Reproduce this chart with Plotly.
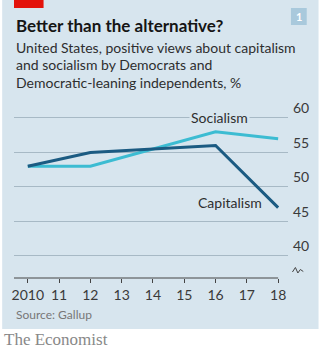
import plotly.graph_objects as go

# Survey years and shares (%) of Democrats and Democratic-leaning independents
years = [2010, 2012, 2016, 2018]
capitalism = [53, 55, 56, 47]
socialism = [53, 53, 58, 57]

tick_years = [2010, 2011, 2012, 2013, 2014, 2015, 2016, 2017, 2018]
tick_text = ["2010", "11", "12", "13", "14", "15", "16", "17", "18"]
y_ticks = [40, 45, 50, 55, 60]

subtitle_lines = [
    "United States, positive views about capitalism",
    "and socialism by Democrats and",
    "Democratic-leaning independents, %",
]

W, H = 321, 350
ML, MR, MT, MB = 12, 31, 100, 72
PW, PH = W - ML - MR, H - MT - MB

BG = "#d7e5ee"
CAP_COLOR = "#1b5b82"
SOC_COLOR = "#3cbcd2"
TEXT = "#2e2e2e"
FONT = "Lato"


def px_x(x):
    return (x - ML) / PW


def px_y(y):
    return (H - MB - y) / PH


fig = go.Figure()
fig.add_trace(go.Scatter(x=years, y=socialism, mode="lines", name="Socialism",
                         line=dict(color=SOC_COLOR, width=3)))
fig.add_trace(go.Scatter(x=years, y=capitalism, mode="lines", name="Capitalism",
                         line=dict(color=CAP_COLOR, width=3)))

shapes = [
    # panel background
    dict(type="rect", xref="paper", yref="paper", x0=px_x(0), x1=px_x(W),
         y0=px_y(329), y1=px_y(0), fillcolor=BG, line=dict(width=0), layer="below"),
    # red tag
    dict(type="rect", xref="paper", yref="paper", x0=px_x(12), x1=px_x(42),
         y0=px_y(8), y1=px_y(0), fillcolor="#e3120b", line=dict(width=0)),
    # chart number box
    dict(type="rect", xref="paper", yref="paper", x0=px_x(293), x1=px_x(309),
         y0=px_y(25), y1=px_y(8), fillcolor="#a9c9dc", line=dict(width=0)),
    # x axis baseline
    dict(type="line", xref="x", yref="paper", x0=tick_years[0] - 14 / 31.75,
         x1=tick_years[-1], y0=0, y1=0, line=dict(color="#444", width=1)),
    # axis break mark
    dict(type="path", xref="paper", yref="paper",
         path="M {:.4f},{:.4f} L {:.4f},{:.4f} L {:.4f},{:.4f} L {:.4f},{:.4f} L {:.4f},{:.4f}".format(
             px_x(294.5), px_y(272), px_x(297.5), px_y(267.5), px_x(300), px_y(273),
             px_x(302.5), px_y(269.5), px_x(305.5), px_y(271.5)),
         line=dict(color="#444", width=1)),
]

annotations = [
    dict(text="<b>Better than the alternative?</b>", x=px_x(12), y=px_y(25),
         xref="paper", yref="paper", xanchor="left", yanchor="middle", showarrow=False,
         font=dict(family=FONT, size=17, color="#151515")),
    dict(text="<b>1</b>", x=px_x(301), y=px_y(16.5), xref="paper", yref="paper",
         xanchor="center", yanchor="middle", showarrow=False,
         font=dict(family=FONT, size=11, color="white")),
    dict(text="Socialism", x=2016.14, y=60, xref="x", yref="y", showarrow=False,
         xanchor="center", yanchor="middle", bgcolor=BG, borderpad=1,
         font=dict(family=FONT, size=14, color=TEXT)),
    dict(text="Capitalism", x=2016.45, y=47.7, xref="x", yref="y", showarrow=False,
         xanchor="center", yanchor="middle",
         font=dict(family=FONT, size=14, color=TEXT)),
    dict(text="Source: Gallup", x=px_x(12), y=px_y(314), xref="paper", yref="paper",
         xanchor="left", yanchor="middle", showarrow=False,
         font=dict(family=FONT, size=12, color="#777")),
    dict(text="The Economist", x=px_x(0), y=px_y(339), xref="paper", yref="paper",
         xanchor="left", yanchor="middle", showarrow=False,
         font=dict(family="Liberation Serif", size=17, color="#888")),
]
for i, line in enumerate(subtitle_lines):
    annotations.append(dict(text=line, x=px_x(12), y=px_y(47 + 17.5 * i),
                            xref="paper", yref="paper", xanchor="left",
                            yanchor="middle", showarrow=False,
                            font=dict(family=FONT, size=14, color=TEXT)))

fig.update_layout(
    width=W, height=H,
    margin=dict(l=ML, r=MR, t=MT, b=MB, pad=0),
    paper_bgcolor="white", plot_bgcolor="rgba(0,0,0,0)",
    showlegend=False,
    shapes=shapes, annotations=annotations,
    xaxis=dict(range=[tick_years[0] - 14 / 31.75, tick_years[-1] + 10 / 31.75],
               tickvals=tick_years, ticktext=tick_text, showgrid=False,
               zeroline=False, showline=False, ticks="outside", ticklen=4,
               tickcolor="#444", tickwidth=1,
               tickfont=dict(family=FONT, size=14, color="#3a3a3a"), fixedrange=True),
    yaxis=dict(range=[36.81, 62.6], tickvals=y_ticks, side="right",
               ticklabelposition="outside top", showgrid=True,
               gridcolor="#a7b9c5", gridwidth=1, zeroline=False, showline=False,
               ticks="", ticklabelstandoff=4,
               tickfont=dict(family=FONT, size=14, color="#3a3a3a"), fixedrange=True),
)

fig.write_html("out.html")
